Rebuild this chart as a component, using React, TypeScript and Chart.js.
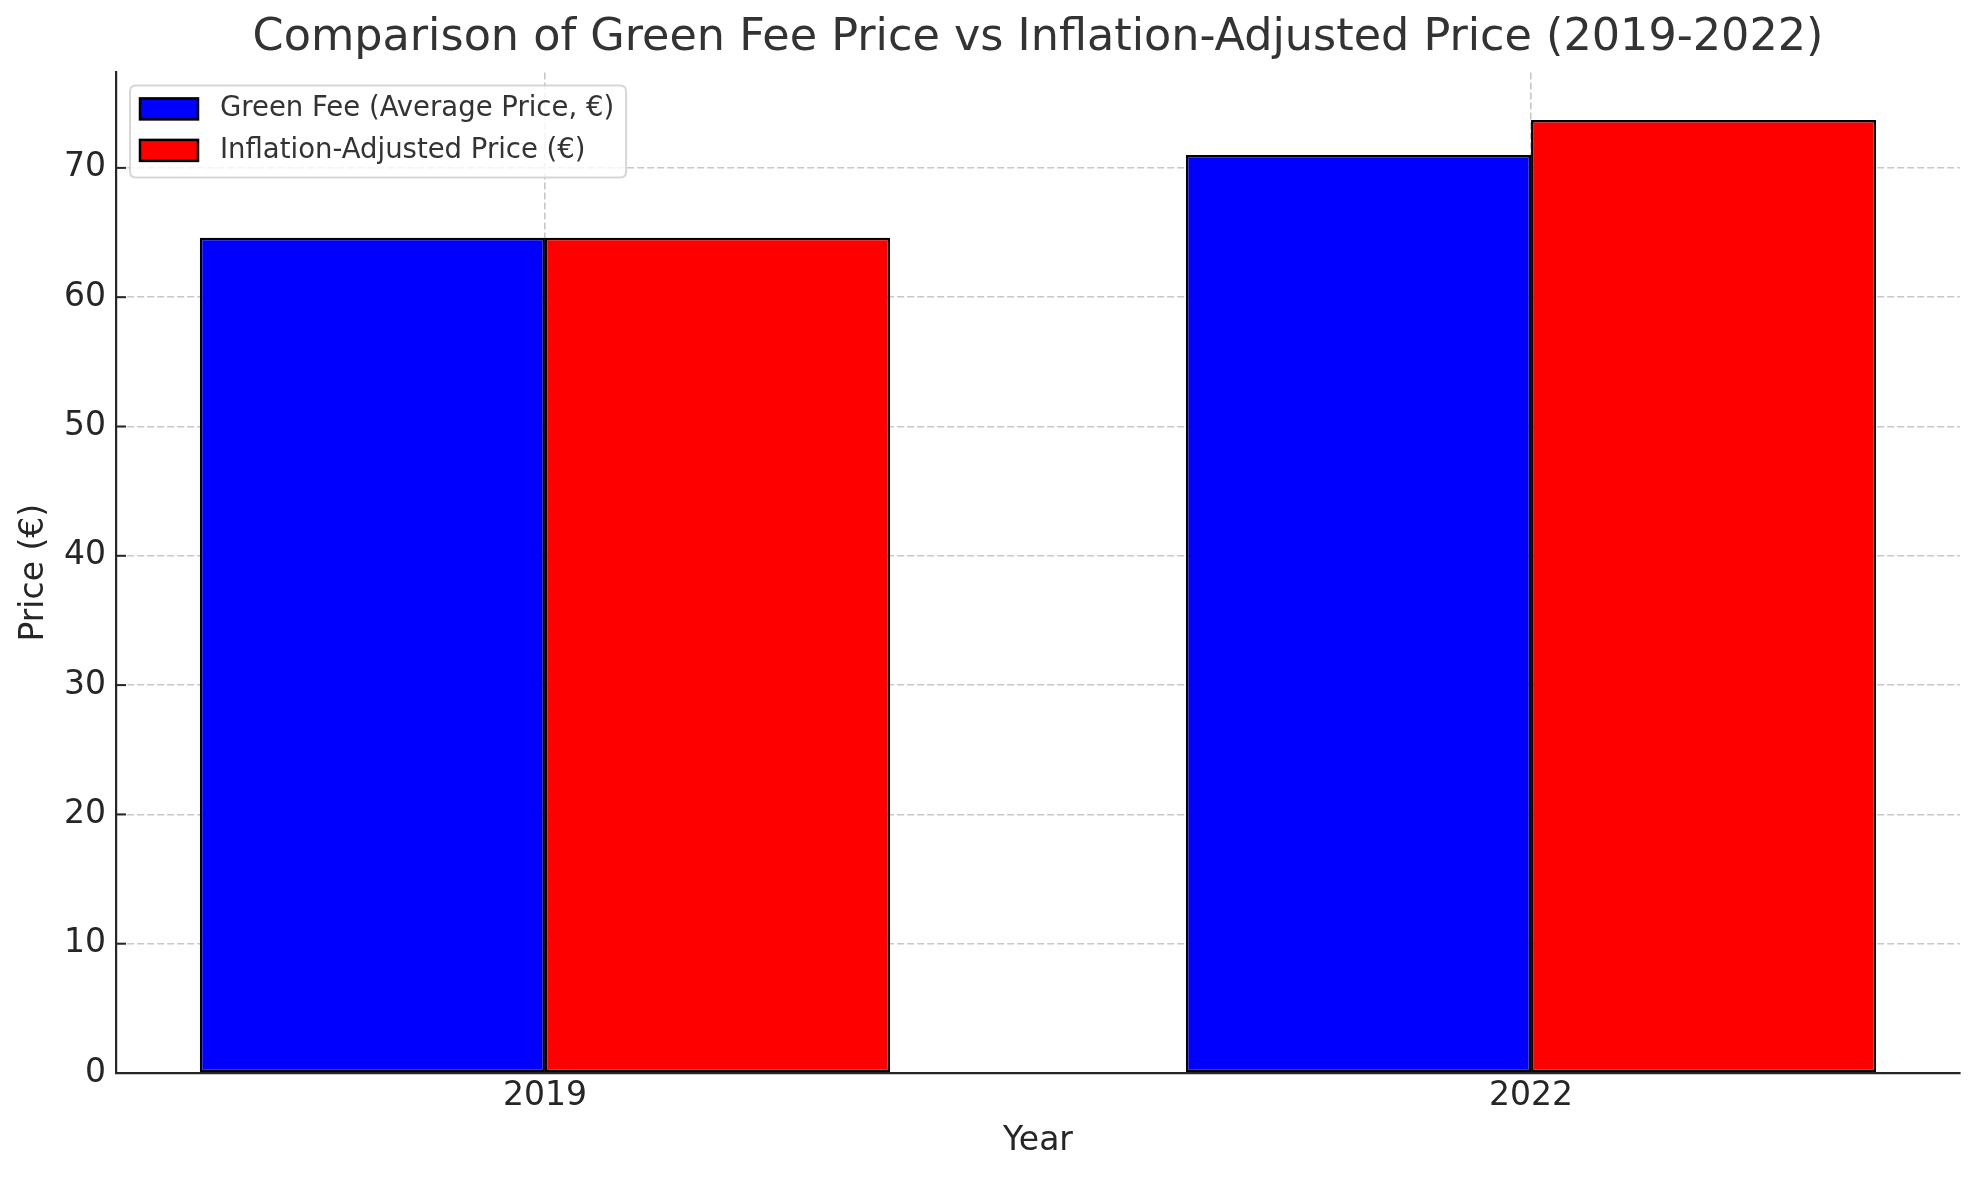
import React, { useEffect, useRef } from 'react';
import { Chart, registerables } from 'chart.js';

Chart.register(...registerables);

// ---- data ----
const years = ['2019', '2022'];
const greenFee = [64.6, 71.0];
const inflationAdjusted = [64.6, 73.7];
const seriesLabels = ['Green Fee (Average Price, €)', 'Inflation-Adjusted Price (€)'];
const seriesColors = ['#0000ff', '#ff0000'];
const yTickStep = 10;

const FONT = "'DejaVu Sans', 'Liberation Sans', sans-serif";
const TEXT = '#262626';
const GRID = 'rgba(176,176,176,0.7)';

const HALF_GROUP = 0.35; // each bar 0.35 wide, two bars per group
const xSpan = years.length - 1 + 2 * HALF_GROUP;
const xMin = -HALF_GROUP - 0.05 * xSpan;
const xMax = years.length - 1 + HALF_GROUP + 0.05 * xSpan;
const yMax = Math.max(...greenFee, ...inflationAdjusted) * 1.05;

const inwardTicks = {
  id: 'inwardTicks',
  afterDraw(chart: any) {
    const { ctx, chartArea } = chart;
    const y = chart.scales.y;
    ctx.save();
    ctx.strokeStyle = TEXT;
    ctx.lineWidth = 2;
    y.ticks.forEach((t: any) => {
      const py = y.getPixelForValue(t.value);
      ctx.beginPath();
      ctx.moveTo(chartArea.left, py);
      ctx.lineTo(chartArea.left + 10, py);
      ctx.stroke();
    });
    ctx.restore();
  },
};

const innerLegend = {
  id: 'innerLegend',
  afterDraw(chart: any) {
    const { ctx, chartArea } = chart;
    const datasets = chart.data.datasets;
    ctx.save();
    ctx.font = `27.5px ${FONT}`;
    const fx = chartArea.left + 14;
    const fy = chartArea.top + 13;
    const textX = fx + 90;
    let maxW = 0;
    datasets.forEach((d: any) => {
      maxW = Math.max(maxW, ctx.measureText(d.label).width);
    });
    const fw = textX + maxW + 12 - fx;
    const fh = 92;
    const r = 6;
    ctx.beginPath();
    ctx.moveTo(fx + r, fy);
    ctx.lineTo(fx + fw - r, fy);
    ctx.quadraticCurveTo(fx + fw, fy, fx + fw, fy + r);
    ctx.lineTo(fx + fw, fy + fh - r);
    ctx.quadraticCurveTo(fx + fw, fy + fh, fx + fw - r, fy + fh);
    ctx.lineTo(fx + r, fy + fh);
    ctx.quadraticCurveTo(fx, fy + fh, fx, fy + fh - r);
    ctx.lineTo(fx, fy + r);
    ctx.quadraticCurveTo(fx, fy, fx + r, fy);
    ctx.closePath();
    ctx.fillStyle = 'rgba(255,255,255,0.8)';
    ctx.fill();
    ctx.strokeStyle = 'rgba(204,204,204,0.8)';
    ctx.lineWidth = 2;
    ctx.stroke();

    datasets.forEach((d: any, i: number) => {
      const cy = fy + 23.5 + i * 41.5;
      ctx.fillStyle = d.backgroundColor;
      ctx.fillRect(fx + 10, cy - 10.5, 58, 21);
      ctx.strokeStyle = '#000';
      ctx.lineWidth = 2.5;
      ctx.strokeRect(fx + 10, cy - 10.5, 58, 21);
      ctx.fillStyle = '#333';
      ctx.textBaseline = 'middle';
      ctx.textAlign = 'left';
      ctx.fillText(d.label, textX, cy);
    });
    ctx.restore();
  },
};

export default function App() {
  const ref = useRef<HTMLCanvasElement | null>(null);

  useEffect(() => {
    document.body.style.margin = '0';
    if (!ref.current) return;
    const series = [greenFee, inflationAdjusted];
    const chart = new Chart(ref.current, {
      type: 'bar',
      data: {
        datasets: series.map((vals, s) => ({
          label: seriesLabels[s],
          data: vals.map((v, i) => ({ x: i, y: v })),
          backgroundColor: seriesColors[s],
          borderColor: '#000000',
          borderWidth: 2.5,
          borderSkipped: false,
          categoryPercentage: 2 * HALF_GROUP,
          barPercentage: 1.0,
        })),
      },
      plugins: [inwardTicks, innerLegend],
      options: {
        animation: false,
        responsive: true,
        maintainAspectRatio: false,
        devicePixelRatio: 1,
        layout: { padding: { left: 0, right: 19, top: 0, bottom: 0 } },
        plugins: {
          legend: { display: false },
          tooltip: { enabled: false },
          title: {
            display: true,
            fullSize: false,
            text: 'Comparison of Green Fee Price vs Inflation-Adjusted Price (2019-2022)',
            color: '#333333',
            font: { family: FONT, size: 44.5, weight: 'normal' },
            padding: { top: 12, bottom: 7 },
          },
        },
        scales: {
          x: {
            type: 'linear',
            min: xMin,
            max: xMax,
            bounds: 'data',
            offset: false,
            z: 1,
            afterBuildTicks: (scale: any) => {
              scale.ticks = years.map((_, i) => ({ value: i }));
            },
            afterFit: (scale: any) => {
              scale.height = 107;
            },
            ticks: {
              callback: (v: any) => years[v] ?? '',
              color: TEXT,
              font: { family: FONT, size: 33 },
              padding: 4,
              maxRotation: 0,
              autoSkip: false,
            },
            grid: { color: GRID, lineWidth: 1.6, drawTicks: false, offset: false },
            border: { display: true, color: TEXT, width: 2.2, dash: [7, 3] },
            title: {
              display: true,
              text: 'Year',
              color: TEXT,
              font: { family: FONT, size: 33 },
              padding: { top: 0, bottom: 19 },
            },
          },
          y: {
            type: 'linear',
            min: 0,
            max: yMax,
            bounds: 'data',
            z: 1,
            afterFit: (scale: any) => {
              scale.width = 116;
            },
            ticks: {
              stepSize: yTickStep,
              includeBounds: false,
              color: TEXT,
              font: { family: FONT, size: 33 },
              padding: 10,
            },
            grid: { color: GRID, lineWidth: 1.6, drawTicks: false },
            border: { display: true, color: TEXT, width: 2.2, dash: [7, 3] },
            title: {
              display: true,
              text: 'Price (€)',
              color: TEXT,
              font: { family: FONT, size: 33 },
              padding: { top: 15, bottom: 0 },
            },
          },
        },
      } as any,
    });
    return () => chart.destroy();
  }, []);

  return (
    <div style={{ width: 1979, height: 1180, position: 'relative', background: '#fff' }}>
      <canvas ref={ref} />
    </div>
  );
}
